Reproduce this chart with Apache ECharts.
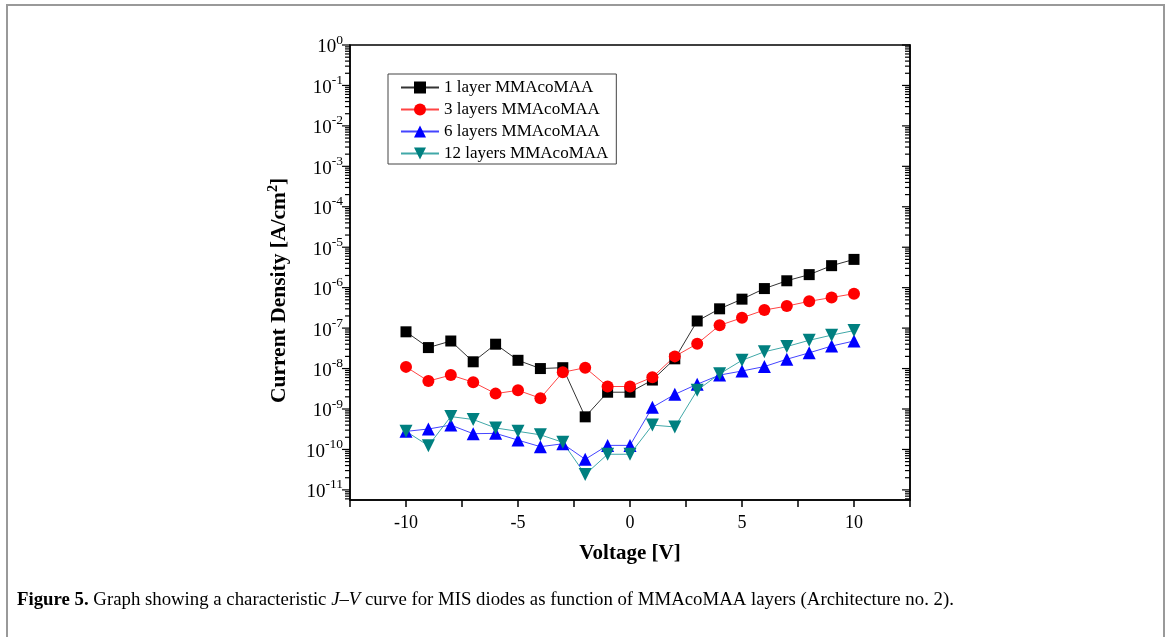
<!DOCTYPE html>
<html>
<head>
<meta charset="utf-8">
<script src="https://cdn.jsdelivr.net/npm/echarts@6/dist/echarts.min.js"></script>
<style>html,body{margin:0;padding:0;background:#fff}#c{width:1170px;height:637px}</style>
</head>
<body>
<div id="c"></div>
<script>
// ---- data ----
const voltage = [-10,-9,-8,-7,-6,-5,-4,-3,-2,-1,0,1,2,3,4,5,6,7,8,9,10];
const layer1  = [8.1e-8,3.3e-8,4.8e-8,1.47e-8,4.0e-8,1.6e-8,1.0e-8,1.05e-8,6.4e-10,2.6e-9,2.6e-9,5.2e-9,1.74e-8,1.5e-7,3.0e-7,5.2e-7,9.5e-7,1.48e-6,2.1e-6,3.5e-6,5.0e-6];
const layer3  = [1.1e-8,4.9e-9,6.9e-9,4.6e-9,2.4e-9,2.9e-9,1.85e-9,8.1e-9,1.05e-8,3.6e-9,3.6e-9,6.1e-9,2.0e-8,4.1e-8,1.17e-7,1.8e-7,2.8e-7,3.5e-7,4.6e-7,5.7e-7,7.1e-7];
const layer6  = [2.8e-10,3.2e-10,4.0e-10,2.45e-10,2.5e-10,1.7e-10,1.17e-10,1.38e-10,5.7e-11,1.26e-10,1.26e-10,1.1e-9,2.3e-9,4.1e-9,6.9e-9,8.7e-9,1.12e-8,1.7e-8,2.45e-8,3.6e-8,4.8e-8];
const layer12 = [2.8e-10,1.24e-10,6.5e-10,5.5e-10,3.4e-10,2.8e-10,2.3e-10,1.5e-10,2.4e-11,7.6e-11,7.6e-11,4.0e-10,3.6e-10,2.9e-9,7.4e-9,1.6e-8,2.6e-8,3.5e-8,5.0e-8,6.7e-8,8.7e-8];
const seriesNames = ['1 layer MMAcoMAA','3 layers MMAcoMAA','6 layers MMAcoMAA','12 layers MMAcoMAA'];
const xTickLabels = [-10,-5,0,5,10];

const X_MIN = -12.5, X_MAX = 12.5;
const Y_MIN = Math.pow(10, -11.25), Y_MAX = 1;
const SERIF = '"Liberation Serif", "Times New Roman", serif';

function pairs(ys){ return voltage.map((v,i)=>[v, ys[i]]); }

// major (decade) and minor (log) ticks for left and right edges
const edgeTicks = [];
for (let e = -12; e <= 0; e++) {
  for (let m = 1; m <= 9; m++) {
    const v = m * Math.pow(10, e);
    if (v >= Y_MIN && v <= Y_MAX * 1.0000001) {
      const len = m === 1 ? 8 : 5;
      edgeTicks.push([X_MIN, v, len]);
      edgeTicks.push([X_MAX, v, len]);
    }
  }
}

const chart = echarts.init(document.getElementById('c'));
const lineSeries = (name, data, color, lineColor, symbol, size, rotate) => ({
  name, type: 'line', data: pairs(data), symbol, symbolSize: size, symbolRotate: rotate || 0,
  itemStyle: { color }, lineStyle: { color: lineColor, width: 1 }, z: 5, animation: false
});

chart.setOption({
  animation: false,
  grid: { left: 350, right: 260, top: 45, bottom: 137, show: true, borderColor: '#000', borderWidth: 1.5, containLabel: false },
  legend: {
    data: seriesNames, orient: 'vertical', left: 388, top: 74,
    padding: [5, 8, 2, 12], itemGap: 5, itemWidth: 38, itemHeight: 15,
    borderColor: '#444', borderWidth: 1, backgroundColor: '#fff',
    textStyle: { fontFamily: SERIF, fontSize: 17, color: '#000' }
  },
  xAxis: {
    type: 'value', min: X_MIN, max: X_MAX, interval: 2.5,
    name: 'Voltage [V]', nameLocation: 'middle', nameGap: 43,
    nameTextStyle: { fontFamily: SERIF, fontSize: 21, fontWeight: 'bold', color: '#000' },
    axisLine: { show: true, onZero: false, lineStyle: { color: '#000', width: 1.5 } },
    axisTick: { show: true, inside: false, length: 7, lineStyle: { color: '#000', width: 1.5 } },
    axisLabel: { margin: 14, fontFamily: SERIF, fontSize: 18, color: '#000',
      formatter: v => xTickLabels.indexOf(v) >= 0 ? String(v) : '' },
    splitLine: { show: false }
  },
  yAxis: [{
    type: 'log', logBase: 10, min: Y_MIN, max: Y_MAX, interval: 0.25,
    name: '{t|Current Density [A/cm}{s|2}{t|]}', nameLocation: 'middle', nameGap: 58,
    nameTextStyle: { padding: [0, 36, 0, 0], rich: {
      t: { fontFamily: SERIF, fontSize: 21.5, fontWeight: 'bold', color: '#000', lineHeight: 26 },
      s: { fontFamily: SERIF, fontSize: 14, fontWeight: 'bold', color: '#000', verticalAlign: 'top', lineHeight: 26 }
    } },
    axisLine: { show: true, onZero: false, lineStyle: { color: '#000', width: 1.5 } },
    axisTick: { show: false },
    axisLabel: { margin: 7, showMinLabel: false, hideOverlap: false,
      formatter: val => {
        const l = Math.log10(val), e = Math.round(l);
        if (Math.abs(l - e) > 1e-4) return '';
        return '{b|10}{s|' + e + '}';
      },
      rich: {
        b: { fontFamily: SERIF, fontSize: 19, color: '#000', lineHeight: 24, verticalAlign: 'bottom' },
        s: { fontFamily: SERIF, fontSize: 13.5, color: '#000', lineHeight: 24, verticalAlign: 'top' }
      } },
    splitLine: { show: false }
  }, {
    type: 'log', logBase: 10, min: Y_MIN, max: Y_MAX, position: 'right',
    axisLine: { show: true, onZero: false, lineStyle: { color: '#000', width: 1.5 } },
    axisTick: { show: false },
    axisLabel: { show: false }, splitLine: { show: false }
  }],
  series: [
    lineSeries(seriesNames[0], layer1, '#000000', '#333333', 'rect', 11),
    lineSeries(seriesNames[1], layer3, '#ff0000', '#ff4444', 'circle', 12),
    lineSeries(seriesNames[2], layer6, '#0000ff', '#4444ff', 'triangle', 13),
    lineSeries(seriesNames[3], layer12, '#008080', '#40a8a8', 'triangle', 13, 180),
    {
      type: 'custom', silent: true, z: 10, clip: false, data: edgeTicks,
      renderItem: (params, api) => {
        const p = api.coord([api.value(0), api.value(1)]);
        return { type: 'line', shape: { x1: p[0], y1: p[1], x2: p[0] - api.value(2), y2: p[1] },
          style: { stroke: '#000', lineWidth: 1.2 } };
      }
    }
  ],
  graphic: [
    { type: 'rect', silent: true, shape: { x: 7, y: 5, width: 1157, height: 700 },
      style: { fill: 'none', stroke: '#999', lineWidth: 2 } },
    { type: 'text', silent: true, left: 17, top: 591,
      style: {
        text: '{b|Figure 5.}{r| Graph showing a characteristic }{i|J–V}{r| curve for MIS diodes as function of MMAcoMAA layers (Architecture no. 2).}',
        rich: {
          b: { fontFamily: SERIF, fontSize: 18.8, fontWeight: 'bold', fill: '#000' },
          r: { fontFamily: SERIF, fontSize: 18.8, fill: '#000' },
          i: { fontFamily: SERIF, fontSize: 18.8, fontStyle: 'italic', fill: '#000' }
        }
      } }
  ]
});
</script>
</body>
</html>
